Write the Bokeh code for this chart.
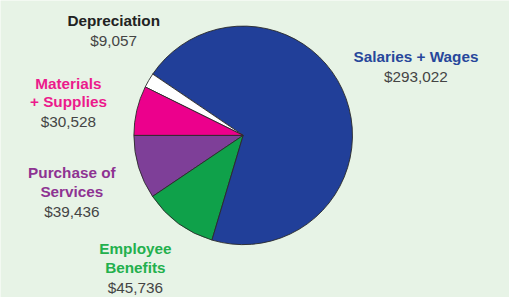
import math
from bokeh.plotting import figure
from bokeh.models import Range1d, ColumnDataSource
from bokeh.core.properties import value
from bokeh.embed import file_html
from bokeh.resources import INLINE

# ---- data ----
categories = ["Purchase of Services", "Employee Benefits", "Salaries + Wages", "Depreciation", "Materials + Supplies"]
amounts = [39436, 45736, 293022, 9057, 30528]
colors = ["#7e3f98", "#0fa14a", "#213f99", "#ffffff", "#ec008c"]
label_lines = [["Purchase of", "Services"], ["Employee", "Benefits"], ["Salaries + Wages"], ["Depreciation"], ["Materials", "+ Supplies"]]
label_colors = ["#8e3392", "#23b04d", "#27479b", "#222222", "#ec1a8c"]
value_labels = ["$39,436", "$45,736", "$293,022", "$9,057", "$30,528"]

# ---- layout (reference pixel coords; y measured from top) ----
W, H = 509, 297
REF_W, REF_H = 517, 305
cx_img, cy_img, R = 246.5, 138.5, 111
label_anchor = [(72.5, 177), (137, 255), (422, 58), (115, 21), (69, 85)]
line_gap = 19
value_gap = 20.5

def Y(img_y):
    return REF_H - img_y

p = figure(width=W, height=H, output_backend="svg", toolbar_location=None,
           x_range=Range1d(0, REF_W), y_range=Range1d(0, REF_H),
           min_border=0, border_fill_color="#e7f3e6", background_fill_color="#e7f3e6")
p.axis.visible = False
p.grid.visible = False
p.outline_line_color = None

total = sum(amounts)
starts, ends = [], []
a = math.pi
for v in amounts:
    starts.append(a)
    a += 2 * math.pi * v / total
    ends.append(a)

src = ColumnDataSource(dict(cat=categories, val=amounts, color=colors, start=starts, end=ends))
p.wedge(x=cx_img, y=Y(cy_img), radius=R, start_angle="start", end_angle="end",
        direction="anticlock", fill_color="color", line_color="#2a2a2a", line_width=0.9, source=src)

tx, ty, tt, tc = [], [], [], []
vx, vy, vt = [], [], []
for lines, col, (ax, ay), vl in zip(label_lines, label_colors, label_anchor, value_labels):
    y = ay
    for ln in lines:
        tx.append(ax); ty.append(Y(y)); tt.append(ln); tc.append(col)
        y += line_gap
    vx.append(ax); vy.append(Y(y - line_gap + value_gap)); vt.append(vl)

p.text(x=tx, y=ty, text=tt, text_color=tc, text_align="center", text_baseline="middle",
       text_font=value("Liberation Sans"), text_font_style="bold", text_font_size="15.3px")
p.text(x=vx, y=vy, text=vt, text_color="#444444", text_align="center", text_baseline="middle",
       text_font=value("Liberation Sans"), text_font_size="15.3px")

open("out.html", "w").write(file_html(p, INLINE))
